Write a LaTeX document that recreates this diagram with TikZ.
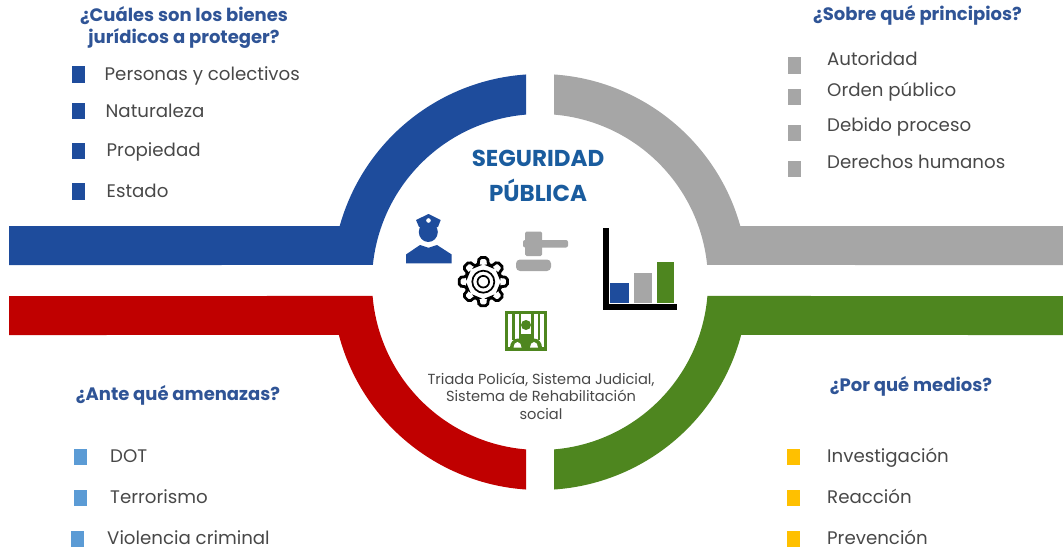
\documentclass[tikz,border=0pt]{standalone}
\usepackage{fontspec}
\setmainfont{Poppins}
\definecolor{cblue}{HTML}{1E4C9C}
\definecolor{cgrey}{HTML}{A6A6A6}
\definecolor{cred}{HTML}{C00000}
\definecolor{cgreen}{HTML}{4E861F}
\definecolor{ctitle}{HTML}{1A5C9E}
\definecolor{chead}{HTML}{2F5496}
\definecolor{ctext}{HTML}{484848}
\definecolor{clight}{HTML}{5B9BD5}
\definecolor{cyel}{HTML}{FFC000}
\tikzset{
 heading/.style={font=\fontsize{18}{22}\selectfont\bfseries, text=chead, align=center, inner sep=0pt},
 item/.style={font=\fontsize{18.2}{20}\selectfont, text=ctext, anchor=west, inner sep=0pt},
 title/.style={font=\fontsize{23}{35}\selectfont\bfseries, text=ctitle, align=center, inner sep=0pt},
 caption/.style={font=\fontsize{14.6}{17.5}\selectfont, text=ctext, align=center, inner sep=0pt},
 bul/.style={minimum width=13pt, minimum height=16.5pt, inner sep=0pt},
}
\begin{document}
\begin{tikzpicture}[x=1pt,y=-1pt]
\useasboundingbox (0,0) rectangle (1063,551);
% bands
\begin{scope}[shift={(540,282)}]
\fill[cblue] (-531,-56) -- (-164.38:208) arc[start angle=-164.38,end angle=-93.86,radius=208] -- (-94.78:168) arc[start angle=-94.78,end angle=-174.19,radius=168] -- (-531,-17) -- cycle;
\fill[cgrey] (523,-56) -- (-15.62:208) arc[start angle=-15.62,end angle=-86.14,radius=208] -- (-85.22:168) arc[start angle=-85.22,end angle=-5.81,radius=168] -- (523,-17) -- cycle;
\fill[cred] (-531,53) -- (165.24:208) arc[start angle=165.24,end angle=93.86,radius=208] -- (94.78:168) arc[start angle=94.78,end angle=175.22,radius=168] -- (-531,14) -- cycle;
\fill[cgreen] (523,53) -- (14.76:208) arc[start angle=14.76,end angle=86.14,radius=208] -- (85.22:168) arc[start angle=85.22,end angle=4.78,radius=168] -- (523,14) -- cycle;
\end{scope}
% centre text
\node[title] (t) at (538,175.5) {SEGURIDAD\\PÚBLICA};
\node[caption] (c) at (541,396) {Triada Policía, Sistema Judicial,\\Sistema de Rehabilitación\\social};
% police
\fill[cblue] (419,227) -- (416,220) -- (428.5,214) -- (440.7,220) -- (438,227) -- cycle;
\fill[cblue] (428.3,232) ellipse[x radius=9.5,y radius=10];
\fill[white] (428.5,220.5) circle[radius=2.3];
\fill[cblue] (406,263.3) -- (406,254.5) -- (420,245) -- (428.5,247.8) -- (437,245) -- (451.7,254.5) -- (451.7,263.3) -- cycle;
% gear
\begin{scope}[shift={(483.3,281.7)}]
\draw[black,line width=2.8pt,rounded corners=2pt] (-17:17.5) -- (-10:24.5) -- (10:24.5) -- (17:17.5)
 \foreach \a in {45,90,...,315}{ -- (\a-17:17.5) -- (\a-10:24.5) -- (\a+10:24.5) -- (\a+17:17.5) } -- cycle;
\draw[black,line width=1.7pt] (0,0) circle[radius=11];
\draw[black,line width=1.7pt] (0,0) circle[radius=5.8];
\end{scope}
% gavel
\fill[cgrey,rounded corners=1.5pt] (525,231.5) rectangle (542,256);
\fill[cgrey,rounded corners=2pt] (523,240) rectangle (568,247.5);
\fill[cgrey,rounded corners=4pt] (516,259.5) rectangle (551,271);
% chart
\fill[black] (602.5,228) rectangle (609,310);
\fill[black] (602.5,303.7) rectangle (677,310);
\fill[cblue] (610,283.3) rectangle (629,302.7);
\fill[cgrey] (633.7,273) rectangle (652.3,302.7);
\fill[cgreen] (656.7,262.3) rectangle (674.3,302.7);
% jail
\fill[cgreen] (504.7,311) rectangle (546.7,351);
\fill[white] (507.5,313.5) rectangle (544,347);
\foreach \x in {513.5,520,532.5,539}{\fill[cgreen] (\x-1.2,313) rectangle (\x+1.2,340);}
\fill[cgreen] (526,325) circle[radius=5];
\fill[cgreen] (519,348) -- (521,334) -- (531,334) -- (533,348) -- cycle;
\fill[cgreen] (510,347.5) arc[start angle=180,end angle=360,x radius=8,y radius=9] -- cycle;
\fill[cgreen] (526,347.5) arc[start angle=180,end angle=360,x radius=8,y radius=9] -- cycle;
\fill[white] (513.5,347.5) arc[start angle=180,end angle=360,x radius=4,y radius=5.5] -- cycle;
\fill[white] (530,347.5) arc[start angle=180,end angle=360,x radius=4,y radius=5.5] -- cycle;
% top left
\node[heading] (h1) at (184,28) {¿Cuáles son los bienes\\jurídicos a proteger?};
\node[bul,fill=cblue] (b11) at (78.5,74.5) {};
\node[bul,fill=cblue] (b12) at (78.5,111) {};
\node[bul,fill=cblue] (b13) at (78.5,151) {};
\node[bul,fill=cblue] (b14) at (78.5,191.5) {};
\node[item] (i11) at (104.5,76) {Personas y colectivos};
\node[item] (i12) at (105.5,111) {Naturaleza};
\node[item] (i13) at (106.5,151.5) {Propiedad};
\node[item] (i14) at (106.5,191) {Estado};
% top right
\node[heading] (h2) at (917.5,15) {¿Sobre qué principios?};
\node[bul,fill=cgrey] (b21) at (794,65.5) {};
\node[bul,fill=cgrey] (b22) at (794,97) {};
\node[bul,fill=cgrey] (b23) at (794,133) {};
\node[bul,fill=cgrey] (b24) at (794,169) {};
\node[item] (i21) at (827,59) {Autoridad};
\node[item] (i22) at (827,92) {Orden público};
\node[item] (i23) at (827,126.5) {Debido proceso};
\node[item] (i24) at (827,161.5) {Derechos humanos};
% bottom left
\node[heading] (h3) at (178,395.5) {¿Ante qué amenazas?};
\node[bul,fill=clight] (b31) at (80,457) {};
\node[bul,fill=clight] (b32) at (80,498) {};
\node[bul,fill=clight] (b33) at (77,539) {};
\node[item] (i31) at (110,456) {DOT};
\node[item] (i32) at (110,496.5) {Terrorismo};
\node[item] (i33) at (107,537.5) {Violencia criminal};
% bottom right
\node[heading] (h4) at (911,386) {¿Por qué medios?};
\node[bul,fill=cyel] (b41) at (793,457) {};
\node[bul,fill=cyel] (b42) at (793,498) {};
\node[bul,fill=cyel] (b43) at (793,539) {};
\node[item] (i41) at (827,457.5) {Investigación};
\node[item] (i42) at (827,496.5) {Reacción};
\node[item] (i43) at (827,537.5) {Prevención};
\end{tikzpicture}
\end{document}
